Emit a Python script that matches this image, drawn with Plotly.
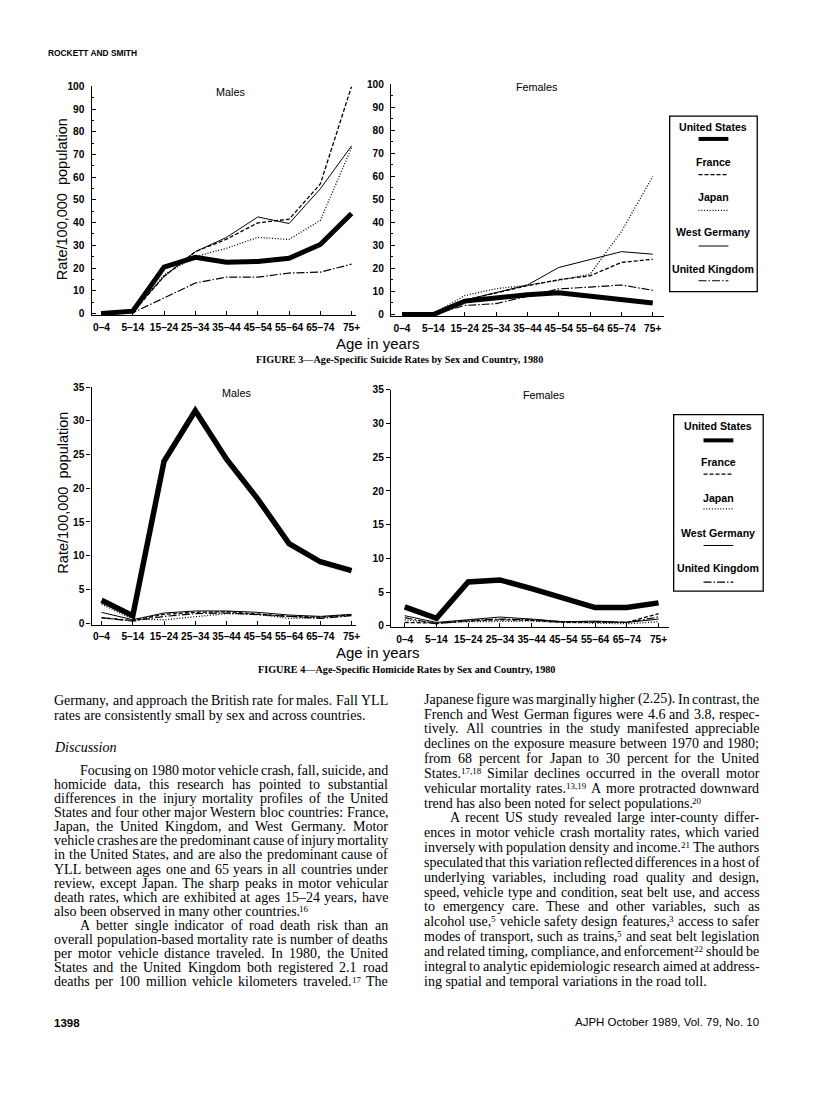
import re
import plotly.graph_objects as go

# ---------------- data ----------------
ages = ["0–4", "5–14", "15–24", "25–34", "35–44", "45–54", "55–64", "65–74", "75+"]
countries = ["United States", "France", "Japan", "West Germany", "United Kingdom"]

# Figure 3 - suicide rates per 100,000
suicide_m_us = [0, 1.0, 20.4, 24.7, 22.6, 22.9, 24.3, 30.4, 44.0]
suicide_m_fr = [0, 0.5, 16.3, 27.2, 32.7, 39.9, 41.5, 57.0, 100.0]
suicide_m_jp = [0, 0.5, 17.0, 25.0, 28.7, 33.5, 32.6, 41.0, 73.0]
suicide_m_wg = [0, 1.0, 16.3, 27.2, 33.5, 42.5, 39.6, 54.9, 73.8]
suicide_m_uk = [0, 0.3, 6.8, 13.4, 16.0, 16.0, 17.8, 18.2, 21.7]

suicide_f_us = [0, 0, 5.8, 7.2, 8.6, 9.4, 7.9, 6.2, 5.0]
suicide_f_fr = [0, 0, 6.2, 9.4, 12.5, 15.1, 16.8, 22.6, 24.0]
suicide_f_jp = [0, 0.3, 8.2, 11.2, 12.7, 14.8, 17.5, 36.0, 60.0]
suicide_f_wg = [0, 0, 6.2, 9.4, 12.8, 20.4, 23.7, 27.3, 26.2]
suicide_f_uk = [0, 0, 3.9, 4.7, 7.9, 11.1, 11.9, 12.8, 10.5]

# Figure 4 - homicide rates per 100,000
homicide_m_us = [3.4, 1.1, 24.0, 31.5, 24.3, 18.4, 11.8, 9.1, 7.8]
homicide_m_fr = [0.8, 0.4, 1.3, 1.6, 1.7, 1.4, 1.0, 0.9, 1.2]
homicide_m_jp = [2.8, 0.6, 0.5, 1.0, 1.4, 1.3, 0.7, 0.8, 1.2]
homicide_m_wg = [1.6, 0.5, 1.5, 1.8, 1.8, 1.6, 1.2, 1.0, 1.3]
homicide_m_uk = [0.8, 0.3, 1.0, 1.4, 1.5, 1.3, 1.0, 0.7, 1.1]

homicide_f_us = [2.8, 1.1, 6.5, 6.8, 5.5, 4.1, 2.7, 2.7, 3.4]
homicide_f_fr = [0.5, 0.4, 0.7, 0.9, 0.8, 0.5, 0.5, 0.5, 1.8]
homicide_f_jp = [0.9, 0.4, 0.6, 0.7, 0.7, 0.5, 0.4, 0.3, 0.6]
homicide_f_wg = [1.5, 0.5, 0.9, 1.3, 1.0, 0.6, 0.7, 0.5, 1.0]
homicide_f_uk = [1.2, 0.3, 0.8, 1.0, 0.9, 0.6, 0.6, 0.5, 1.3]

suicide_ticks = [0, 10, 20, 30, 40, 50, 60, 70, 80, 90, 100]
homicide_ticks = [0, 5, 10, 15, 20, 25, 30, 35]

# ---------------- page geometry ----------------
OFF = 8          # default body margin of the html page
FW, FH = 800, 1070


def px(x):
    return (x - OFF) / FW


def py(y):
    return 1 - (y - OFF) / FH


styles = {
    "United States": dict(color="black", width=5, dash="solid"),
    "France": dict(color="black", width=1.3, dash="4px,2px"),
    "Japan": dict(color="black", width=1.3, dash="1px,1.8px"),
    "West Germany": dict(color="black", width=1.0, dash="solid"),
    "United Kingdom": dict(color="black", width=1.2, dash="8px,2px,1.5px,2px"),
}

panels = [
    ("x", "y", [suicide_m_us, suicide_m_fr, suicide_m_jp, suicide_m_wg, suicide_m_uk]),
    ("x2", "y2", [suicide_f_us, suicide_f_fr, suicide_f_jp, suicide_f_wg, suicide_f_uk]),
    ("x3", "y3", [homicide_m_us, homicide_m_fr, homicide_m_jp, homicide_m_wg, homicide_m_uk]),
    ("x4", "y4", [homicide_f_us, homicide_f_fr, homicide_f_jp, homicide_f_wg, homicide_f_uk]),
]

fig = go.Figure()
for xa, ya, series in panels:
    order = [1, 2, 3, 4, 0]      # thin lines first, United States on top
    for i in order:
        st = dict(styles[countries[i]])
        if xa in ("x3", "x4") and i == 0:
            st["width"] = 5.5
        fig.add_trace(go.Scatter(
            x=ages, y=series[i], mode="lines", name=countries[i],
            line=st, xaxis=xa, yaxis=ya, showlegend=False, hoverinfo="skip"))

tickfont = dict(family="Liberation Sans, Arial, sans-serif", size=10.2, color="black", weight="bold")


def xaxis_cfg(x0, x1, r0, r1, yanchor):
    return dict(domain=[px(x0), px(x1)], range=[r0, r1], type="category", anchor=yanchor,
                showline=True, linecolor="black", linewidth=1.2, ticks="inside",
                ticklen=4, tickcolor="black", tickwidth=1, showgrid=False, zeroline=False,
                tickfont=tickfont, tickangle=0, ticklabelstandoff=2, fixedrange=True)


def yaxis_cfg(ybot, ytop, r0, r1, tickvals, inside, xanchor):
    d = dict(domain=[py(ybot), py(ytop)], range=[r0, r1], tickmode="array", anchor=xanchor,
             tickvals=tickvals, ticktext=[str(v) for v in tickvals],
             showline=True, linecolor="black", linewidth=1.2,
             ticks="inside" if inside else "outside", ticklen=4, tickcolor="black",
             tickwidth=1, showgrid=False, zeroline=False, tickfont=tickfont,
             fixedrange=True)
    if inside:
        d["ticklabelstandoff"] = 4
        d["minor"] = dict(dtick=5, ticks="inside", ticklen=2, tickcolor="black", showgrid=False)
    return d


fig.update_layout(
    width=FW, height=FH, margin=dict(l=0, r=0, t=0, b=0),
    paper_bgcolor="white", plot_bgcolor="white", showlegend=False,
    xaxis=xaxis_cfg(92, 358, -0.318, 8.15, "y"),
    yaxis=yaxis_cfg(311 + 0.8 * 2.29, 82, -0.8, 100, suicide_ticks, True, "x"),
    xaxis2=xaxis_cfg(393, 667, -0.349, 8.349, "y2"),
    yaxis2=yaxis_cfg(312 + 0.8 * 2.32, 80, -0.8, 100, suicide_ticks, True, "x2"),
    xaxis3=xaxis_cfg(92, 358, -0.318, 8.15, "y3"),
    yaxis3=yaxis_cfg(623.3 + 0.25 * 6.8, 385.3, -0.25, 35, homicide_ticks, False, "x3"),
    xaxis4=xaxis_cfg(393, 672, -0.43, 8.32, "y4"),
    yaxis4=yaxis_cfg(626 + 0.25 * 6.8, 388, -0.25, 35, homicide_ticks, False, "x4"),
)

ann = []
shapes = []
SANS = "Liberation Sans, Arial, sans-serif"
SERIF = "Liberation Serif, Times New Roman, serif"


def text(x, y, s, size, family=SANS, xanchor="center", yanchor="middle", angle=0,
         weight="normal", color="black"):
    ann.append(dict(x=px(x), y=py(y), xref="paper", yref="paper", text=s, showarrow=False,
                    xanchor=xanchor, yanchor=yanchor, textangle=angle, borderpad=0,
                    borderwidth=0, font=dict(family=family, size=size, color=color, weight=weight)))


# chart labels
text(232, 88, "Males", 10.8)
text(540, 83, "Females", 10.8)
text(238, 391, "Males", 10.8)
text(547, 393, "Females", 10.8)
text(63, 196, "Rate/100,000  population", 14.5, angle=-90)
text(63, 492, "Rate/100,000  population", 14.5, angle=-90)
text(379, 341, "Age in years", 15)
text(379, 653, "Age in years", 15)
text(401, 357, "FIGURE 3—Age-Specific Suicide Rates by Sex and Country, 1980", 10.2,
     family=SERIF, weight="bold")
text(408, 670, "FIGURE 4—Age-Specific Homicide Rates by Sex and Country, 1980", 10.2,
     family=SERIF, weight="bold")
text(48, 48, "ROCKETT AND SMITH", 8.4, xanchor="left", weight="bold")
text(54, 1027, "1398", 11.5, xanchor="left", weight="bold")
text(763, 1026, "AJPH October 1989, Vol. 79, No. 10", 11.5, xanchor="right")

# legend boxes
legend_specs = [
    dict(box=(673, 112, 761, 289), cx=717, ty=[123, 158, 194, 229, 266],
         ly=[135, 171, 207, 243, 278], half=15),
    dict(box=(677, 413, 767, 591), cx=722, ty=[424, 461, 497, 532, 568],
         ly=[439, 473, 508, 545, 582], half=15),
]
for spec in legend_specs:
    x0, y0, x1, y1 = spec["box"]
    shapes.append(dict(type="rect", xref="paper", yref="paper", x0=px(x0), x1=px(x1),
                       y0=py(y1), y1=py(y0), line=dict(color="black", width=1.3)))
    for i, c in enumerate(countries):
        text(spec["cx"], spec["ty"][i], c, 10.6, weight="bold")
        st = styles[c]
        w = 4 if i == 0 else st["width"]
        shapes.append(dict(type="line", xref="paper", yref="paper",
                           x0=px(spec["cx"] - spec["half"]), x1=px(spec["cx"] + spec["half"]),
                           y0=py(spec["ly"][i]), y1=py(spec["ly"][i]),
                           line=dict(color="black", width=w, dash=st["dash"])))

# ---------------- body text ----------------
TW = {" ": 250, "!": 333, "'": 333, "(": 333, ")": 333, ",": 250, "-": 333, ".": 250,
      "/": 278, ":": 278, ";": 278, "–": 500, "—": 1000, "?": 444,
      "A": 722, "B": 667, "C": 667, "D": 722, "E": 611, "F": 556, "G": 722, "H": 722,
      "I": 333, "J": 389, "K": 722, "L": 611, "M": 889, "N": 722, "O": 722, "P": 556,
      "Q": 722, "R": 667, "S": 556, "T": 611, "U": 722, "V": 722, "W": 944, "X": 722,
      "Y": 722, "Z": 611,
      "a": 444, "b": 500, "c": 444, "d": 500, "e": 444, "f": 333, "g": 500, "h": 500,
      "i": 278, "j": 278, "k": 500, "l": 278, "m": 778, "n": 500, "o": 500, "p": 500,
      "q": 500, "r": 333, "s": 389, "t": 278, "u": 500, "v": 500, "w": 722, "x": 500,
      "y": 500, "z": 444}
for d in "0123456789":
    TW[d] = 500
BODY = 14.0
SUP = 9.0
SUP_RE = re.compile(r"\^\{([^}]*)\}")


def swidth(s, size):
    return sum(TW.get(ch, 500) for ch in s) * size / 1000.0


def wwidth(word):
    parts = SUP_RE.split(word)
    return sum(swidth(p, SUP if k % 2 else BODY) for k, p in enumerate(parts))


def draw_word(x, yb, word):
    # normal parts on the baseline, superscripts as small raised text
    parts = SUP_RE.split(word)
    for k, p in enumerate(parts):
        if not p:
            continue
        if k % 2:
            text(x, yb - 5.0, p, SUP, family=SERIF, xanchor="left", yanchor="bottom")
            x += swidth(p, SUP)
        else:
            text(x, yb, p, BODY, family=SERIF, xanchor="left", yanchor="bottom")
            x += swidth(p, BODY)


def body_line(s, y, x0, x1, indent=0, justify=True):
    yb = y + 6.0
    xs = x0 + indent
    if not justify:
        draw_word(xs, yb, s)
        return
    words = s.split(" ")
    widths = [wwidth(w) for w in words]
    gap = (x1 - xs - sum(widths)) / (len(words) - 1)
    gap = max(gap, 1.5)
    x = xs
    for w, wd in zip(words, widths):
        draw_word(x, yb, w)
        x += wd + gap


LX0, LX1 = 54, 390
RX0, RX1 = 426, 763
IND = 26

body_line("Germany, and approach the British rate for males. Fall YLL", 703.3, LX0, LX1)
body_line("rates are consistently small by sex and across countries.", 718.3, LX0, LX1,
          justify=False)
text(LX0, 756, "<i>Discussion</i>", BODY, family=SERIF, xanchor="left", yanchor="bottom")

left_para = [
    ("Focusing on 1980 motor vehicle crash, fall, suicide, and", IND, True),
    ("homicide data, this research has pointed to substantial", 0, True),
    ("differences in the injury mortality profiles of the United", 0, True),
    ("States and four other major Western bloc countries: France,", 0, True),
    ("Japan, the United Kingdom, and West Germany. Motor", 0, True),
    ("vehicle crashes are the predominant cause of injury mortality", 0, True),
    ("in the United States, and are also the predominant cause of", 0, True),
    ("YLL between ages one and 65 years in all countries under", 0, True),
    ("review, except Japan. The sharp peaks in motor vehicular", 0, True),
    ("death rates, which are exhibited at ages 15–24 years, have", 0, True),
    ("also been observed in many other countries.^{16}", 0, False),
    ("A better single indicator of road death risk than an", IND, True),
    ("overall population-based mortality rate is number of deaths", 0, True),
    ("per motor vehicle distance traveled. In 1980, the United", 0, True),
    ("States and the United Kingdom both registered 2.1 road", 0, True),
    ("deaths per 100 million vehicle kilometers traveled.^{17} The", 0, True),
]
for i, (s, ind, j) in enumerate(left_para):
    body_line(s, 773.3 + i * 14.23, LX0, LX1, ind, j)

right_para = [
    ("Japanese figure was marginally higher (2.25). In contrast, the", 0, True),
    ("French and West German figures were 4.6 and 3.8, respec-", 0, True),
    ("tively. All countries in the study manifested appreciable", 0, True),
    ("declines on the exposure measure between 1970 and 1980;", 0, True),
    ("from 68 percent for Japan to 30 percent for the United", 0, True),
    ("States.^{17,18} Similar declines occurred in the overall motor", 0, True),
    ("vehicular mortality rates.^{13,19} A more protracted downward", 0, True),
    ("trend has also been noted for select populations.^{20}", 0, False),
    ("A recent US study revealed large inter-county differ-", IND, True),
    ("ences in motor vehicle crash mortality rates, which varied", 0, True),
    ("inversely with population density and income.^{21} The authors", 0, True),
    ("speculated that this variation reflected differences in a host of", 0, True),
    ("underlying variables, including road quality and design,", 0, True),
    ("speed, vehicle type and condition, seat belt use, and access", 0, True),
    ("to emergency care. These and other variables, such as", 0, True),
    ("alcohol use,^{5} vehicle safety design features,^{3} access to safer", 0, True),
    ("modes of transport, such as trains,^{5} and seat belt legislation", 0, True),
    ("and related timing, compliance, and enforcement^{22} should be", 0, True),
    ("integral to analytic epidemiologic research aimed at address-", 0, True),
    ("ing spatial and temporal variations in the road toll.", 0, False),
]
for i, (s, ind, j) in enumerate(right_para):
    body_line(s, 701.7 + i * 14.96, RX0, RX1, ind, j)

fig.update_layout(annotations=ann, shapes=shapes)
fig.write_html("out.html")
